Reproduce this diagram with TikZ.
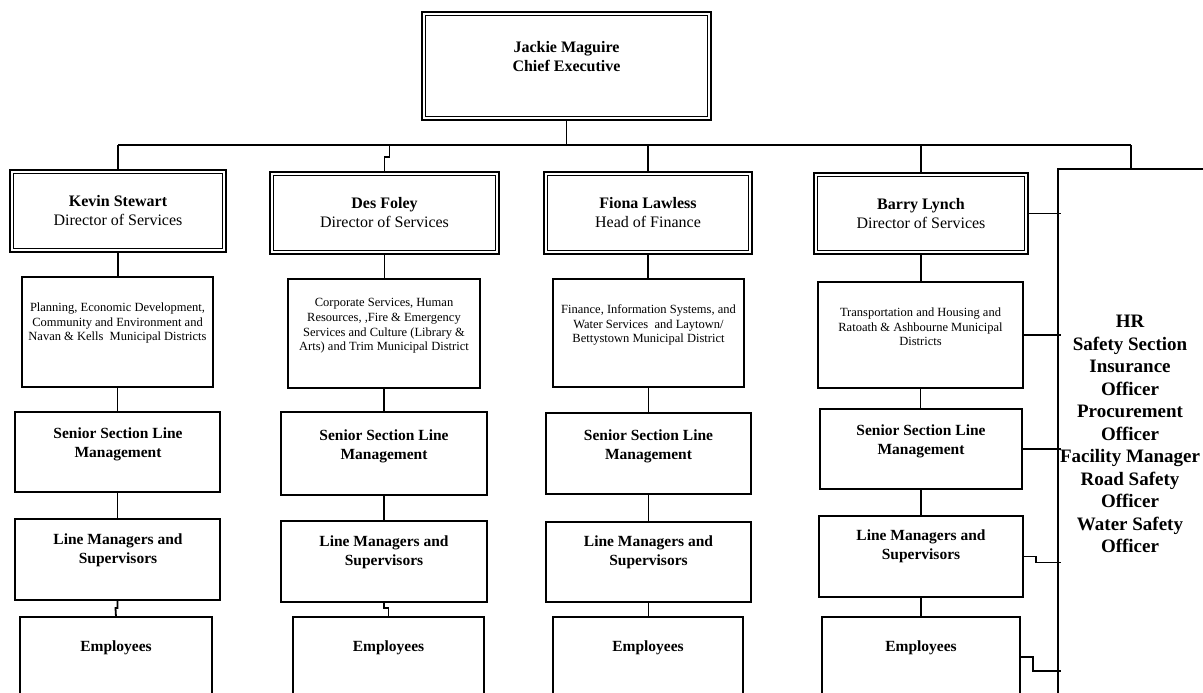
\documentclass[tikz,border=0pt]{standalone}
\usepackage{fontspec}
\setmainfont{Liberation Serif}

% box from (x1,y1) to (x2,y2), coordinates in pt, y downwards
\newcommand\orgbox[6][]{%
  \node[box,#1,minimum width={(#5-#3)*1pt},minimum height={(#6-#4)*1pt},
        anchor=north west] (#2) at (#3,#4) {};}
% thin inner frame of a double-ruled box
\newcommand\innerframe[1]{%
  \draw[line width=1.1pt] ([xshift=3.8pt,yshift=-3.8pt]#1.north west)
    rectangle ([xshift=-3.8pt,yshift=3.8pt]#1.south east);}

\begin{document}
\begin{tikzpicture}[x=1pt,y=-1pt,
  box/.style={draw, line width=1.7pt, inner sep=0pt, outer sep=0pt},
  dbox/.style={box, line width=2.3pt},
  link/.style={line width=1.8pt},
  lead/.style={align=center, inner sep=0pt, font=\fontsize{16}{19}\selectfont},
  subtxt/.style={align=center, inner sep=0pt, font=\fontsize{12.5}{14.7}\selectfont},
  tier/.style={align=center, inner sep=0pt, font=\bfseries\fontsize{15.5}{19}\selectfont},
  hrtxt/.style={align=center, inner sep=0pt, font=\bfseries\fontsize{19}{22.5}\selectfont}]

\useasboundingbox (0,0) rectangle (1203,693);
\clip (0,0) rectangle (1203,693);

% ---- chief executive ----
\orgbox[dbox]{ce}{422}{12}{711}{120}
\innerframe{ce}
\node[lead, font=\bfseries\fontsize{16}{19}\selectfont] (cet) at (566.5,56.5) {Jackie Maguire\\Chief Executive};

% ---- column 1 ----
\orgbox[dbox]{ks}{10}{170}{226}{252}
\innerframe{ks}
\node[lead] (kst) at (118,211) {\textbf{Kevin Stewart}\\Director of Services};
\orgbox{ksub}{22}{277}{213}{387}
\node[subtxt] (ksubt) at (117.5,323) {Planning, Economic Development,\\Community and Environment and\\Navan \& Kells\ \ Municipal Districts};
\orgbox{ksn}{15}{412}{220}{492}
\node[tier] (ksnt) at (118,444) {Senior Section Line\\Management};
\orgbox{klm}{15}{519}{220}{600}
\node[tier] (klmt) at (118,550) {Line Managers and\\Supervisors};
\orgbox{kem}{20}{617}{212}{720}
\node[tier] (kemt) at (116,648) {Employees};

% ---- column 2 ----
\orgbox[dbox]{df}{270}{172}{499}{254}
\innerframe{df}
\node[lead] (dft) at (384.5,213) {\textbf{Des Foley}\\Director of Services};
\orgbox{dsub}{288}{279}{480}{388}
\node[subtxt] (dsubt) at (384,326) {Corporate Services, Human\\Resources, ,Fire \& Emergency\\Services and Culture (Library \&\\Arts) and Trim Municipal District};
\orgbox{dsn}{281}{412}{487}{495}
\node[tier] (dsnt) at (384,446) {Senior Section Line\\Management};
\orgbox{dlm}{281}{521}{487}{602}
\node[tier] (dlmt) at (384,552) {Line Managers and\\Supervisors};
\orgbox{dem}{293}{617}{484}{720}
\node[tier] (demt) at (388.5,648) {Employees};

% ---- column 3 ----
\orgbox[dbox]{fl}{544}{172}{752}{254}
\innerframe{fl}
\node[lead] (flt) at (648,213) {\textbf{Fiona Lawless}\\Head of Finance};
\orgbox{fsub}{553}{279}{744}{387}
\node[subtxt] (fsubt) at (648.5,325) {Finance, Information Systems, and\\Water Services\ \ and Laytown/\\Bettystown Municipal District};
\orgbox{fsn}{546}{413}{751}{494}
\node[tier] (fsnt) at (648.5,446.5) {Senior Section Line\\Management};
\orgbox{flm}{546}{522}{751}{602}
\node[tier] (flmt) at (648.5,552) {Line Managers and\\Supervisors};
\orgbox{fem}{553}{617}{743}{720}
\node[tier] (femt) at (648,648) {Employees};

% ---- column 4 ----
\orgbox[dbox]{bl}{814}{173}{1028}{254}
\innerframe{bl}
\node[lead] (blt) at (921,213.5) {\textbf{Barry Lynch}\\Director of Services};
\orgbox{bsub}{818}{282}{1023}{388}
\node[subtxt] (bsubt) at (920.5,327) {Transportation and Housing and\\Ratoath \& Ashbourne Municipal\\Districts};
\orgbox{bsn}{820}{409}{1022}{489}
\node[tier] (bsnt) at (921,441) {Senior Section Line\\Management};
\orgbox{blm}{819}{516}{1023}{597}
\node[tier] (blmt) at (921,546) {Line Managers and\\Supervisors};
\orgbox{bem}{822}{617}{1020}{720}
\node[tier] (bemt) at (921,648) {Employees};

% ---- support functions ----
\orgbox{hr}{1058}{169}{1220}{720}
\node[hrtxt] (hrt) at (1130,434) {HR\\Safety Section\\Insurance\\Officer\\Procurement\\Officer\\Facility Manager\\Road Safety\\Officer\\Water Safety\\Officer};

% ---- connectors ----
\coordinate (busL) at (118,145);
\coordinate (busR) at (1131,145);
\draw[link] (busL) -- (busR);
\draw[link] (busR) -- (busR |- hr.north);
\draw[link] (ce.south) -- (ce.south |- busL);

\draw[link] (ks.north |- busL) -- (ks.north);
\draw[link] (df.north) -- ++(0,-15) -- ++(5,0) -- ++(0,-12);
\draw[link] (fl.north |- busL) -- (fl.north);
\draw[link] (bl.north |- busL) -- (bl.north);

\draw[link] (ks.south) -- (ks.south |- ksub.north);
\draw[link] (ksub.south) -- (ksub.south |- ksn.north);
\draw[link] (ksn.south) -- (ksn.south |- klm.north);
\draw[link] (klm.south) -- ++(0,8) -- ++(-2,0) -- (kem.north);

\draw[link] (df.south) -- (df.south |- dsub.north);
\draw[link] (dsub.south) -- (dsub.south |- dsn.north);
\draw[link] (dsn.south) -- (dsn.south |- dlm.north);
\draw[link] (dlm.south) -- ++(0,6) -- ++(4.5,0) -- (dem.north);

\draw[link] (fl.south) -- (fl.south |- fsub.north);
\draw[link] (fsub.south) -- (fsub.south |- fsn.north);
\draw[link] (fsn.south) -- (fsn.south |- flm.north);
\draw[link] (flm.south) -- (flm.south |- fem.north);

\draw[link] (bl.south) -- (bl.south |- bsub.north);
\draw[link] (bsub.south) -- (bsub.south |- bsn.north);
\draw[link] (bsn.south) -- (bsn.south |- blm.north);
\draw[link] (blm.south) -- (blm.south |- bem.north);

\draw[link] (bl.east) -- ([xshift=3pt]bl.east -| hr.west);
\draw[link] (bsub.east) -- ([xshift=3pt]bsub.east -| hr.west);
\draw[link] (bsn.east) -- ([xshift=3pt]bsn.east -| hr.west);
\draw[link] (blm.east) -- ++(13,0) -- ++(0,6) -- ++(25,0);
\draw[link] ([yshift=-40pt]bem.north east) -- ++(13,0) -- ++(0,14) -- ++(28,0);
\end{tikzpicture}
\end{document}
